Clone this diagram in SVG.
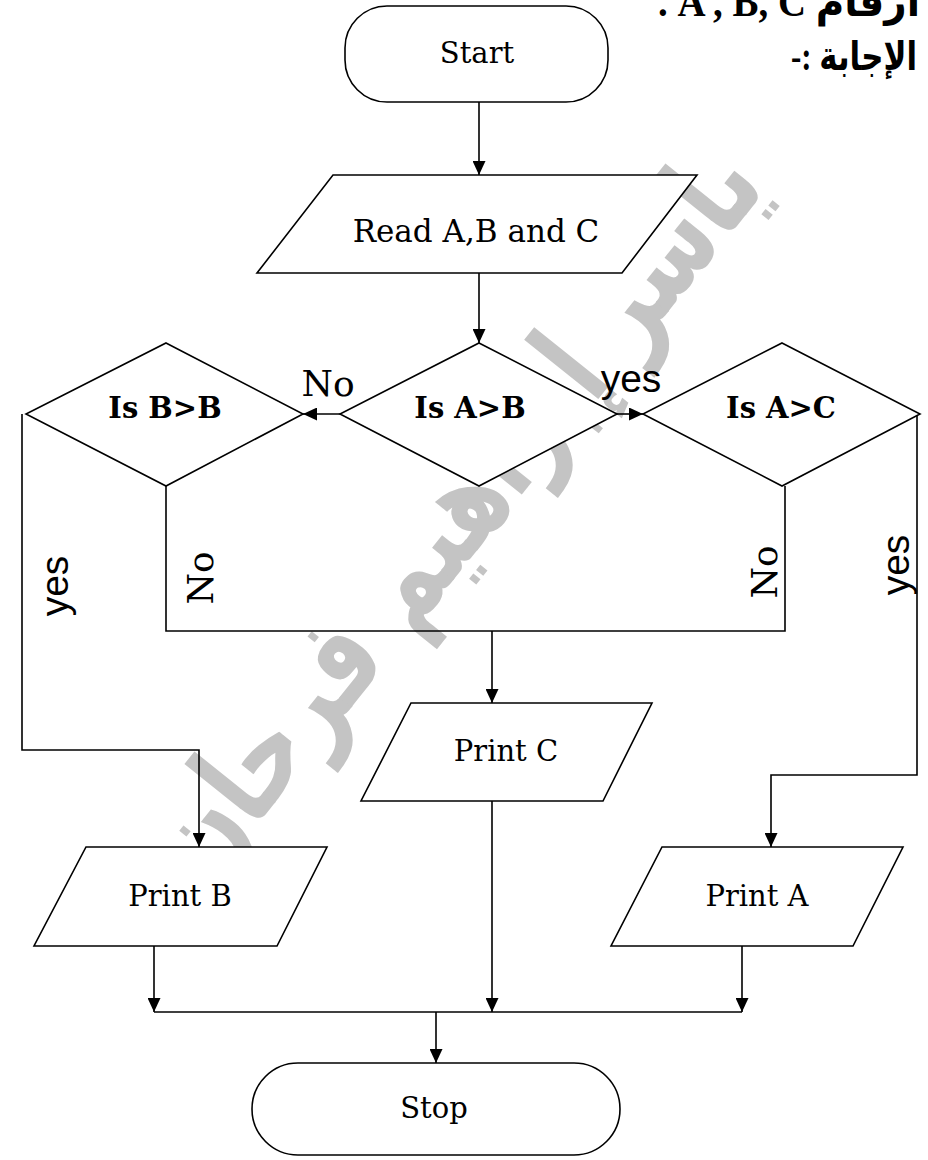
<svg xmlns="http://www.w3.org/2000/svg" width="928" height="1160" viewBox="0 0 928 1160">
<defs>
<marker id="arr" markerUnits="userSpaceOnUse" markerWidth="14" markerHeight="13" refX="14" refY="6.5" orient="auto">
<path d="M0,0 L14,6.5 L0,13 z" fill="#000"/>
</marker>
<style>
.shape{fill:#fff;stroke:#000;stroke-width:1.6}
.conn{fill:none;stroke:#000;stroke-width:1.6}
.lbl{font-family:"DejaVu Serif","Liberation Serif",serif;font-size:29px;fill:#000;text-anchor:middle}
.dia{font-family:"DejaVu Serif","Liberation Serif",serif;font-size:29px;font-weight:bold;fill:#000;text-anchor:middle}
.serifL{font-family:"DejaVu Serif","Liberation Serif",serif;font-size:36px;fill:#000;text-anchor:middle}
.sansL{font-family:"Liberation Sans",Arial,sans-serif;font-size:39px;fill:#000;text-anchor:middle}
.hdr{font-family:"Liberation Serif","DejaVu Sans",sans-serif;font-weight:bold;fill:#000}
.wm{font-family:"DejaVu Sans",sans-serif;font-weight:bold;fill:#c4c4c4}
</style>
</defs>
<rect width="928" height="1160" fill="#fff"/>
<g id="watermark">
<text class="wm" font-size="125" transform="translate(205,890) rotate(-51.3)" textLength="900" lengthAdjust="spacingAndGlyphs">ياسر إبراهيم فرحان</text>
</g>
<g id="header">
<text class="hdr" font-size="42" x="920" y="16" direction="rtl" unicode-bidi="embed" text-anchor="start" textLength="262" lengthAdjust="spacingAndGlyphs">ارقام  A , B, C .</text>
<text class="hdr" font-size="40" x="917" y="70" direction="rtl" unicode-bidi="embed" text-anchor="start" textLength="126" lengthAdjust="spacingAndGlyphs">الإجابة :-</text>
</g>
<g id="connectors">
<line class="conn" x1="479" y1="102" x2="479" y2="175" marker-end="url(#arr)"/>
<line class="conn" x1="479" y1="273" x2="479" y2="343" marker-end="url(#arr)"/>
<line class="conn" x1="340" y1="414" x2="303" y2="414" marker-end="url(#arr)"/>
<line class="conn" x1="617" y1="414" x2="643" y2="414" marker-end="url(#arr)"/>
<polyline class="conn" points="22,414 22,750 199,750 199,847" marker-end="url(#arr)"/>
<polyline class="conn" points="166,486 166,631 785,631 785,486"/>
<line class="conn" x1="492" y1="631" x2="492" y2="703" marker-end="url(#arr)"/>
<polyline class="conn" points="917,414 917,775 771,775 771,847" marker-end="url(#arr)"/>
<line class="conn" x1="154" y1="946" x2="154" y2="1012" marker-end="url(#arr)"/>
<line class="conn" x1="492" y1="801" x2="492" y2="1012" marker-end="url(#arr)"/>
<line class="conn" x1="742" y1="946" x2="742" y2="1012" marker-end="url(#arr)"/>
<line class="conn" x1="154" y1="1012" x2="742" y2="1012"/>
<line class="conn" x1="436" y1="1012" x2="436" y2="1063" marker-end="url(#arr)"/>
<text class="serifL" x="328" y="396">No</text>
<text class="sansL" x="631" y="392">yes</text>
<text class="sansL" transform="translate(68,586) rotate(-90)">yes</text>
<text class="serifL" transform="translate(213,578) rotate(-90)">No</text>
<text class="serifL" transform="translate(777,572) rotate(-90)">No</text>
<text class="sansL" transform="translate(909,565) rotate(-90)">yes</text>
</g>
<g id="start">
<rect class="shape" x="345" y="6" width="263" height="96" rx="42" ry="42"/>
<text class="lbl" x="477" y="63">Start</text>
</g>
<g id="read">
<polygon class="shape" points="333,175 697,175 622,273 257,273"/>
<text class="lbl" x="476" y="242" style="font-size:31px">Read A,B and C</text>
</g>
<g id="isAB">
<polygon class="shape" points="479,343 617,414 479,486 340,414"/>
<text class="dia" x="470" y="418">Is A&gt;B</text>
</g>
<g id="isBB">
<polygon class="shape" points="166,343 303,414 166,486 26,414"/>
<text class="dia" x="165" y="418">Is B&gt;B</text>
</g>
<g id="isAC">
<polygon class="shape" points="782,343 920,414 782,486 643,414"/>
<text class="dia" x="781" y="418">Is A&gt;C</text>
</g>
<g id="printC">
<polygon class="shape" points="411,703 652,703 603,801 361,801"/>
<text class="lbl" x="506" y="761">Print C</text>
</g>
<g id="printB">
<polygon class="shape" points="86,847 327,847 277,946 34,946"/>
<text class="lbl" x="180" y="906">Print B</text>
</g>
<g id="printA">
<polygon class="shape" points="662,847 903,847 853,946 611,946"/>
<text class="lbl" x="757" y="906">Print A</text>
</g>
<g id="stop">
<rect class="shape" x="252" y="1063" width="368" height="92" rx="46" ry="46"/>
<text class="lbl" x="434" y="1118">Stop</text>
</g>
</svg>
